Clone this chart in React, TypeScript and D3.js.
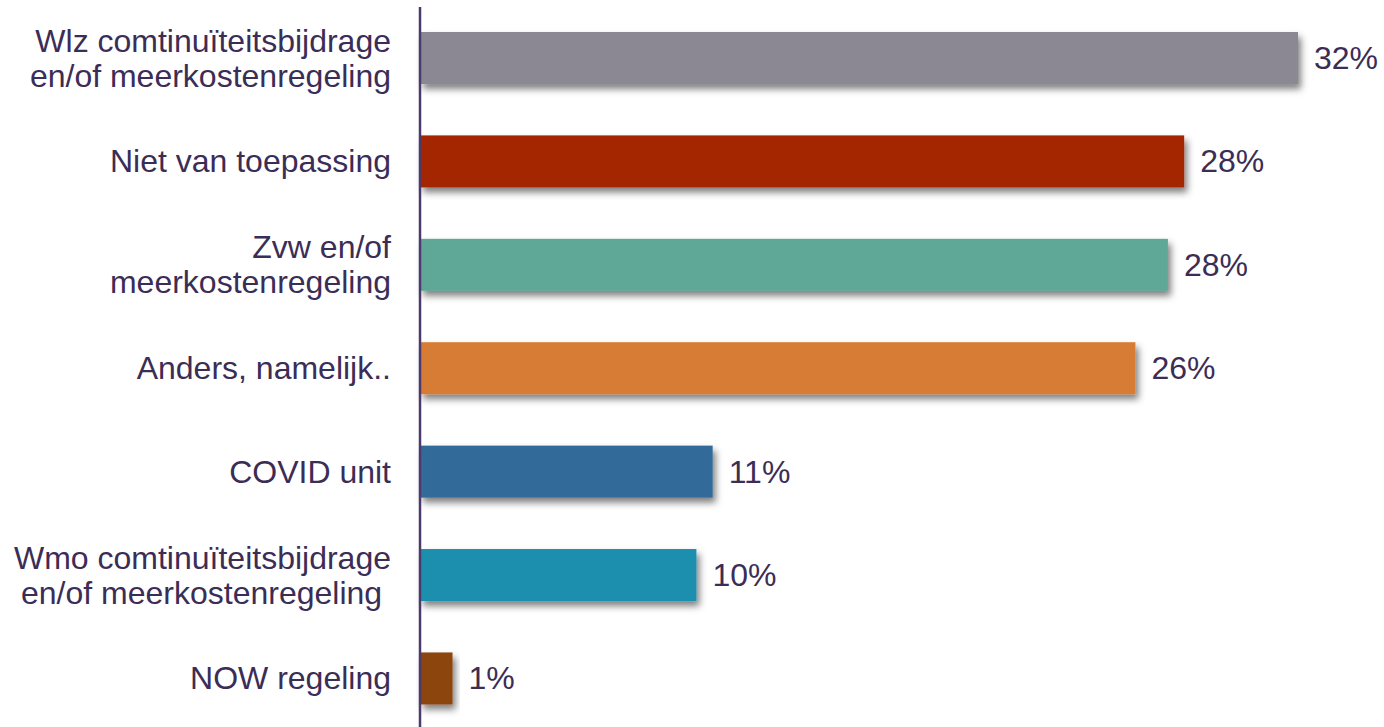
import React from "react";
import * as d3 from "d3";

const categories: string[][] = [
  ["Wlz comtinuïteitsbijdrage", "en/of meerkostenregeling"],
  ["Niet van toepassing"],
  ["Zvw en/of", "meerkostenregeling"],
  ["Anders, namelijk.."],
  ["COVID unit"],
  ["Wmo comtinuïteitsbijdrage", "en/of meerkostenregeling "],
  ["NOW regeling"],
];
const values: number[] = [32.4, 28.2, 27.6, 26.4, 10.8, 10.2, 1.2];
const colors: string[] = ["#8b8893", "#a32600", "#5fa898", "#d67b34", "#336a9a", "#1f8fae", "#8c4510"];

const W = 1384;
const H = 727;
const X0 = 420;
const TEXT = "#3b2d55";
const FONT = "'Liberation Sans', Arial, sans-serif";
const FS = 32;

export default function App() {
  const keys = categories.map((c) => c.join(" "));
  const x = d3.scaleLinear().domain([0, 32.4]).range([X0, 1298]);
  const y = d3
    .scaleBand<string>()
    .domain(keys)
    .range([6.15, 730.3])
    .paddingInner(0.497)
    .paddingOuter(0.25);
  const bw = y.bandwidth();
  return (
    <svg width={W} height={H} style={{ position: "absolute", left: 0, top: 0 }} fontFamily={FONT}>
      <defs>
        <filter id="sh" x="-10%" y="-30%" width="130%" height="180%">
          <feDropShadow dx="3" dy="5" stdDeviation="3.5" floodColor="#000" floodOpacity="0.5" />
        </filter>
      </defs>
      {keys.map((k, i) => {
        const yc = (y(k) as number) + bw / 2;
        const lines = categories[i];
        const lh = 35;
        return (
          <g key={k}>
            <rect
              x={x(0)}
              y={y(k)}
              width={x(values[i]) - x(0)}
              height={bw}
              fill={colors[i]}
              filter="url(#sh)"
            />
            <text x={x(values[i]) + 16} y={yc + 11} fontSize={FS} fill={TEXT}>
              {Math.round(values[i]) + "%"}
            </text>
            {lines.map((ln, j) => (
              <text
                key={j}
                x={391}
                y={yc + 11 + (j - (lines.length - 1) / 2) * lh}
                fontSize={FS}
                fill={TEXT}
                textAnchor="end"
                style={{ whiteSpace: "pre" }}
              >
                {ln}
              </text>
            ))}
          </g>
        );
      })}
      <line x1={X0} x2={X0} y1={7} y2={H} stroke="#4b3a6b" strokeWidth={2.5} />
    </svg>
  );
}
